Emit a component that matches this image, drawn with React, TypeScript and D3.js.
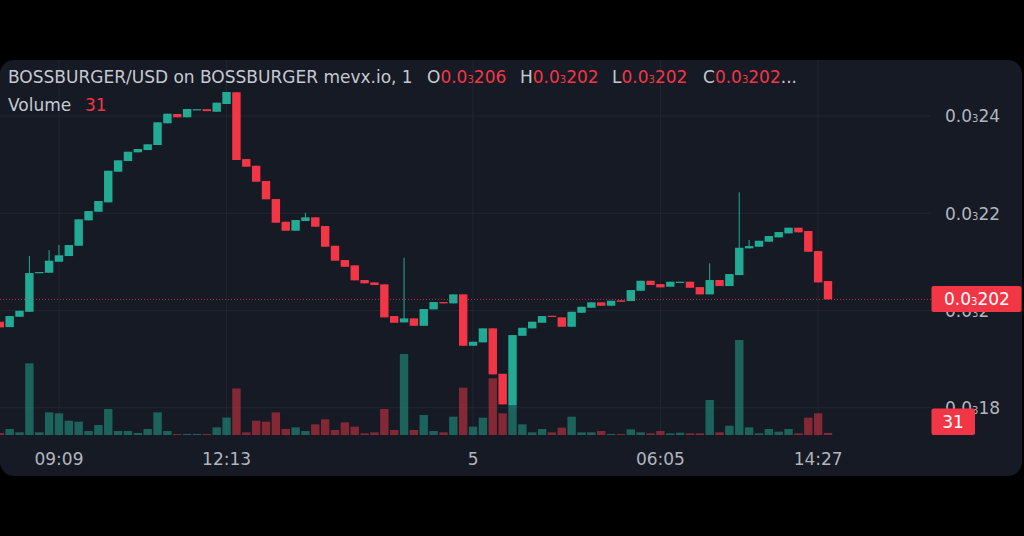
import React from 'react';
import * as d3 from 'd3';

// Prices in units of 0.00001 USD (e.g. 24 = 0.00024)
const openE5 = [
  19.768, 19.658, 19.870, 19.973, 20.776, 20.776, 21.002, 21.119, 21.331, 21.854,
  22.031, 22.224, 22.854, 23.074, 23.253, 23.300, 23.403, 23.850, 24.041, 23.973,
  24.140, 24.140, 24.088, 24.247, 24.488, 23.115, 22.977, 22.663, 22.292, 21.825,
  21.640, 21.840, 21.916, 21.737, 21.331, 21.037, 20.928, 20.626, 20.578, 20.537,
  19.885, 19.755, 19.837, 19.685, 20.023, 20.173, 20.146, 20.331, 19.274, 19.344,
  19.632, 18.698, 18.053, 19.479, 19.632, 19.747, 19.891, 19.858, 19.665, 19.953,
  20.056, 20.167, 20.097, 20.208, 20.193, 20.405, 20.611, 20.543, 20.488, 20.570,
  20.591, 20.481, 20.331, 20.626, 20.502, 20.728, 21.278, 21.311, 21.414, 21.504,
  21.586, 21.702, 21.634, 21.222, 20.605,
];
const highE5 = [
  19.768, 19.885, 19.994, 21.119, 20.790, 21.243, 21.346, 21.346, 21.874, 22.045,
  22.251, 22.874, 23.088, 23.265, 23.321, 23.418, 23.870, 24.047, 24.041, 24.144,
  24.140, 24.140, 24.274, 24.494, 24.488, 23.115, 22.977, 22.663, 22.292, 21.825,
  21.860, 22.010, 21.916, 21.737, 21.331, 21.037, 20.928, 20.626, 20.578, 20.537,
  19.885, 21.084, 19.837, 20.029, 20.173, 20.173, 20.331, 20.331, 19.356, 19.632,
  19.632, 18.698, 19.494, 19.644, 19.768, 19.885, 19.891, 19.858, 19.973, 20.076,
  20.167, 20.167, 20.200, 20.208, 20.420, 20.611, 20.611, 20.543, 20.591, 20.591,
  20.591, 20.481, 20.969, 20.626, 20.749, 22.430, 21.449, 21.434, 21.531, 21.613,
  21.702, 21.702, 21.634, 21.222, 20.605,
];
const lowE5 = [
  19.652, 19.658, 19.870, 19.973, 20.776, 20.776, 21.002, 21.119, 21.331, 21.854,
  22.031, 22.224, 22.854, 23.074, 23.253, 23.300, 23.403, 23.850, 23.973, 23.973,
  24.140, 24.100, 24.088, 24.247, 23.095, 22.957, 22.648, 22.286, 21.805, 21.640,
  21.640, 21.840, 21.722, 21.311, 21.023, 20.899, 20.619, 20.558, 20.523, 19.858,
  19.747, 19.755, 19.685, 19.685, 20.023, 20.146, 20.146, 19.274, 19.274, 19.344,
  18.685, 18.068, 18.053, 19.479, 19.632, 19.747, 19.870, 19.665, 19.665, 19.953,
  20.056, 20.097, 20.097, 20.179, 20.193, 20.405, 20.523, 20.475, 20.488, 20.570,
  20.467, 20.331, 20.331, 20.502, 20.502, 20.728, 21.278, 21.311, 21.414, 21.504,
  21.586, 21.607, 21.208, 20.578, 20.228,
];
const closeE5 = [
  19.652, 19.885, 19.994, 20.770, 20.790, 21.023, 21.134, 21.346, 21.874, 22.045,
  22.251, 22.874, 23.088, 23.265, 23.321, 23.418, 23.870, 24.047, 23.973, 24.144,
  24.140, 24.100, 24.274, 24.494, 23.095, 22.957, 22.648, 22.286, 21.805, 21.640,
  21.860, 21.916, 21.722, 21.311, 21.023, 20.899, 20.619, 20.558, 20.523, 19.858,
  19.747, 19.837, 19.685, 20.029, 20.173, 20.146, 20.331, 19.274, 19.356, 19.632,
  18.685, 18.068, 19.494, 19.644, 19.768, 19.885, 19.870, 19.665, 19.973, 20.076,
  20.167, 20.097, 20.200, 20.179, 20.420, 20.611, 20.523, 20.475, 20.591, 20.591,
  20.467, 20.331, 20.626, 20.502, 20.749, 21.290, 21.325, 21.434, 21.531, 21.613,
  21.702, 21.607, 21.208, 20.578, 20.228,
];
const volume = [
  30, 90, 40, 1075, 40, 340, 325, 215, 200, 60,
  150, 390, 60, 60, 30, 90, 340, 60, 15, 15,
  15, 15, 115, 262, 698, 40, 215, 200, 340, 90,
  115, 60, 160, 235, 75, 190, 125, 25, 40, 390,
  75, 1215, 75, 300, 60, 40, 275, 710, 125, 260,
  850, 325, 450, 160, 40, 90, 40, 110, 275, 40,
  40, 60, 15, 15, 85, 40, 25, 60, 25, 35,
  25, 25, 525, 40, 140, 1425, 115, 25, 90, 50,
  90, 25, 260, 325, 31,
];

const priceTicksE5 = [18, 20, 22, 24];
const timeTickIndex = [6, 23, 48, 67, 83];
const timeTickLabels = ['09:09', '12:13', '5', '06:05', '14:27'];

const titleText = 'BOSSBURGER/USD on BOSSBURGER mevx.io, 1';
const ohlcKeys = ['O', 'H', 'L', 'C'];
const ohlcValuesE5 = [20.6, 20.2, 20.2, 20.2];
const lastPriceLabelE5 = 20.2;
const lastVolume = 31;

// ---------- styling ----------
const W = 1024;
const H = 536;
const FONT = "'DejaVu Sans', sans-serif";
const BG = '#000000';
const PANEL = '#161a25';
const GRID = '#222632';
const TEXT = '#b2b5be';
const TITLE = '#c6c9d1';
const UP = '#22ab94';
const DOWN = '#f23645';
const UP_VOL = 'rgba(34,171,148,0.5)';
const DOWN_VOL = 'rgba(242,54,69,0.5)';

const panel = { x: 0, y: 60, w: 1022, h: 416, r: 14 };
const plotRight = 931;
const plotBottom = 437;
const volBase = 435;

function splitPrice(vE5: number) {
  const digits = String(+vE5.toFixed(3)).replace('.', '').replace(/0+$/, '');
  return { lead: '0.0', sub: '3', digits };
}

function PriceText({ x, y, v, fill, size = 17 }: { x: number; y: number; v: number; fill: string; size?: number }) {
  const p = splitPrice(v);
  return (
    <text x={x} y={y} fill={fill} fontSize={size} fontFamily={FONT}>
      {p.lead}
      <tspan fontSize={10}>{p.sub}</tspan>
      {p.digits}
    </text>
  );
}

export default function App() {
  const n = closeE5.length;
  const x = d3.scaleLinear().domain([0, n - 1]).range([-0.2, 828]);
  const y = d3.scaleLinear().domain([18, 24]).range([407.7, 116]);
  const vh = d3.scaleLinear().domain([0, 1500]).range([0, 100]);
  const bodyW = 8.4;

  const candles = d3.range(n).map((i) => ({
    i,
    o: openE5[i],
    h: highE5[i],
    l: lowE5[i],
    c: closeE5[i],
    v: volume[i],
    up: closeE5[i] >= openE5[i],
  }));

  const lastClose = closeE5[n - 1];
  const lastY = y(lastClose);

  return (
    <div style={{ position: 'fixed', left: 0, top: 0, width: W, height: H }}>
      <svg width={W} height={H} viewBox={`0 0 ${W} ${H}`} style={{ display: 'block' }}>
        <defs>
          <clipPath id="panelClip">
            <rect x={panel.x} y={panel.y} width={panel.w} height={panel.h} rx={panel.r} />
          </clipPath>
          <clipPath id="plotClip">
            <rect x={0} y={panel.y} width={plotRight} height={plotBottom - panel.y} />
          </clipPath>
        </defs>
        <rect x={0} y={0} width={W} height={H} fill={BG} />
        <rect x={panel.x} y={panel.y} width={panel.w} height={panel.h} rx={panel.r} fill={PANEL} />

        <g clipPath="url(#panelClip)">
          <g clipPath="url(#plotClip)">
            {/* grid */}
            {priceTicksE5.map((t) => (
              <line key={'hg' + t} x1={0} x2={plotRight} y1={y(t)} y2={y(t)} stroke={GRID} strokeWidth={1} />
            ))}
            {timeTickIndex.map((t) => (
              <line key={'vg' + t} x1={x(t)} x2={x(t)} y1={panel.y} y2={plotBottom} stroke={GRID} strokeWidth={1} />
            ))}

            {/* volume */}
            {candles.map((d) => (
              <rect
                key={'v' + d.i}
                x={x(d.i) - bodyW / 2}
                y={volBase - vh(d.v)}
                width={bodyW}
                height={vh(d.v)}
                fill={d.up ? UP_VOL : DOWN_VOL}
              />
            ))}

            {/* candles */}
            {candles.map((d) => {
              const col = d.up ? UP : DOWN;
              const yTop = y(Math.max(d.o, d.c));
              const yBot = y(Math.min(d.o, d.c));
              const bh = Math.max(1.2, yBot - yTop);
              return (
                <g key={'c' + d.i}>
                  <line x1={x(d.i)} x2={x(d.i)} y1={y(d.h)} y2={y(d.l)} stroke={col} strokeWidth={1} />
                  <rect x={x(d.i) - bodyW / 2} y={yTop} width={bodyW} height={bh} fill={col} />
                </g>
              );
            })}

            {/* last price line */}
            <line x1={0} x2={plotRight} y1={lastY} y2={lastY} stroke={DOWN} strokeOpacity={0.75} strokeWidth={1} strokeDasharray="1 2" />
          </g>

          {/* price axis labels */}
          {priceTicksE5.map((t) => (
            <PriceText key={'pt' + t} x={945} y={y(t) + 6.3} v={t} fill={TEXT} />
          ))}

          {/* last price label */}
          <rect x={931.5} y={lastY - 13.5} width={90} height={26} rx={2} fill={DOWN} />
          <PriceText x={944} y={lastY + 6} v={lastPriceLabelE5} fill="#ffffff" />

          {/* volume label */}
          <rect x={931.5} y={408.5} width={43.5} height={26.5} rx={2} fill={DOWN} />
          <text x={953} y={428} textAnchor="middle" fill="#ffffff" fontSize={17} fontFamily={FONT}>
            {lastVolume}
          </text>

          {/* time axis */}
          {timeTickIndex.map((t, k) => (
            <text key={'tt' + t} x={x(t)} y={465} textAnchor="middle" fill={TEXT} fontSize={17} fontFamily={FONT}>
              {timeTickLabels[k]}
            </text>
          ))}
        </g>

        {/* header */}
        <text x={8} y={83} fill={TITLE} fontSize={17} fontFamily={FONT}>
          {titleText}
        </text>
        {ohlcKeys.map((k, idx) => {
          const gx = [427, 520, 612, 703][idx];
          const p = splitPrice(ohlcValuesE5[idx]);
          return (
            <text key={'ohlc' + k} x={gx} y={83} fontSize={17} fontFamily={FONT} fill={TITLE}>
              {k}
              <tspan fill={DOWN}>{p.lead}</tspan>
              <tspan fill={DOWN} fontSize={10}>{p.sub}</tspan>
              <tspan fill={DOWN}>{p.digits}</tspan>
              {k === 'C' ? <tspan fill={TITLE}>...</tspan> : null}
            </text>
          );
        })}
        <text x={8} y={111} fill={TITLE} fontSize={17} fontFamily={FONT}>
          Volume
        </text>
        <text x={85} y={111} fill={DOWN} fontSize={17} fontFamily={FONT}>
          {lastVolume}
        </text>
      </svg>
    </div>
  );
}
